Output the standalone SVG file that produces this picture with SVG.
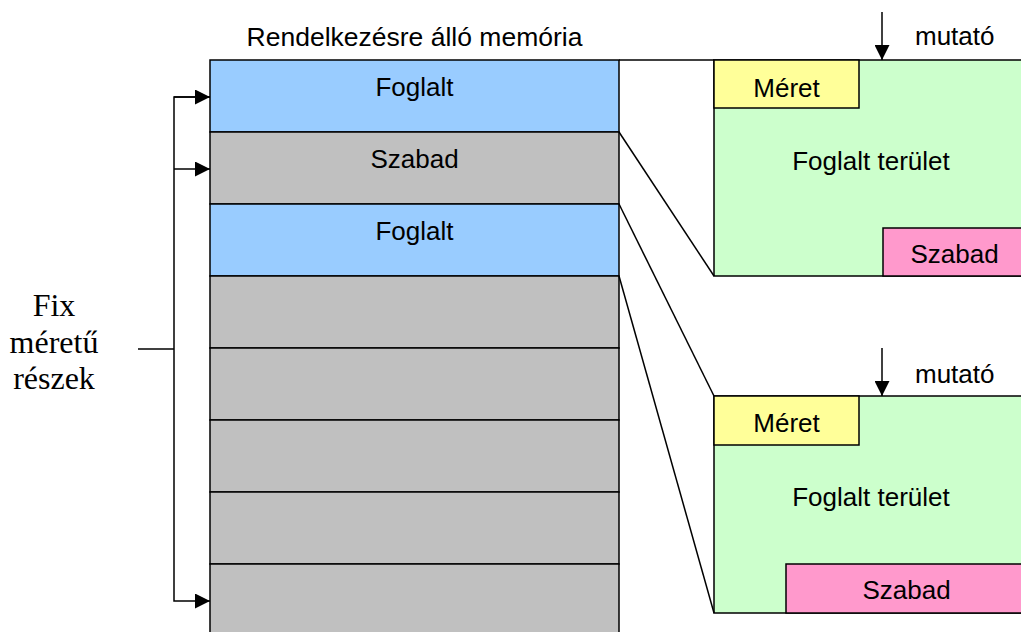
<svg xmlns="http://www.w3.org/2000/svg" width="1021" height="632" viewBox="0 0 1021 632">
  <style>
    .box { stroke: #000; stroke-width: 1.5; }
    .busy { fill: #99CCFF; }
    .free { fill: #C0C0C0; }
    .area { fill: #CCFFCC; }
    .size { fill: #FFFF99; }
    .rest { fill: #FF99CC; }
    .lbl { font-family: "Liberation Sans", Arial, sans-serif; font-size: 26px; fill: #000; text-anchor: middle; }
    .lbl-l { font-family: "Liberation Sans", Arial, sans-serif; font-size: 26px; fill: #000; }
    .serif { font-family: "Liberation Serif", "Times New Roman", serif; font-size: 32px; fill: #000; text-anchor: middle; }
    .wire { stroke: #000; stroke-width: 1.5; fill: none; }
  </style>
  <defs>
    <marker id="arrow" viewBox="0 0 15 15" refX="15" refY="7.5" markerWidth="15" markerHeight="15" markerUnits="userSpaceOnUse" orient="auto">
      <path d="M0,0 L15,7.5 L0,15 Z" fill="#000"/>
    </marker>
  </defs>

  <rect width="1021" height="632" fill="#fff"/>

  <!-- title over the memory column -->
  <text class="lbl" x="414.5" y="46" style="font-size:26.5px">Rendelkezésre álló memória</text>

  <!-- memory column: one block per fixed-size part -->
  <g id="mem-1"><rect class="box busy" x="210" y="60" width="409" height="72"/><text class="lbl" x="414.5" y="96">Foglalt</text></g>
  <g id="mem-2"><rect class="box free" x="210" y="132" width="409" height="72"/><text class="lbl" x="414.5" y="168">Szabad</text></g>
  <g id="mem-3"><rect class="box busy" x="210" y="204" width="409" height="72"/><text class="lbl" x="414.5" y="240">Foglalt</text></g>
  <g id="mem-4"><rect class="box free" x="210" y="276" width="409" height="72"/></g>
  <g id="mem-5"><rect class="box free" x="210" y="348" width="409" height="72"/></g>
  <g id="mem-6"><rect class="box free" x="210" y="420" width="409" height="72"/></g>
  <g id="mem-7"><rect class="box free" x="210" y="492" width="409" height="72"/></g>
  <g id="mem-8"><rect class="box free" x="210" y="564" width="409" height="76"/></g>

  <!-- detail of the first allocated block -->
  <g id="detail-1">
    <rect class="box area" x="714" y="60" width="320" height="216"/>
    <rect class="box size" x="714" y="60" width="145" height="48"/>
    <text class="lbl" x="786.5" y="97">Méret</text>
    <text class="lbl" x="871" y="170">Foglalt terület</text>
    <rect class="box rest" x="883" y="228" width="151" height="48"/>
    <text class="lbl" x="954.5" y="263">Szabad</text>
    <text class="lbl-l" x="915" y="45">mutató</text>
  </g>

  <!-- detail of the second allocated block -->
  <g id="detail-2">
    <rect class="box area" x="714" y="396" width="320" height="217"/>
    <rect class="box size" x="714" y="396" width="145" height="49"/>
    <text class="lbl" x="786.5" y="432">Méret</text>
    <text class="lbl" x="871" y="506">Foglalt terület</text>
    <rect class="box rest" x="786" y="564" width="248" height="49"/>
    <text class="lbl" x="906.5" y="599">Szabad</text>
    <text class="lbl-l" x="915" y="383">mutató</text>
  </g>

  <!-- fixed-size parts label -->
  <g id="fixed-label">
    <text class="serif" x="54" y="316">Fix</text>
    <text class="serif" x="54" y="353">méretű</text>
    <text class="serif" x="54" y="389">részek</text>
  </g>

  <!-- connectors -->
  <g id="connectors">
    <line class="wire" x1="619" y1="60" x2="714" y2="60"/>
    <line class="wire" x1="619" y1="132" x2="714" y2="276"/>
    <line class="wire" x1="619" y1="204" x2="714" y2="396"/>
    <line class="wire" x1="619" y1="276" x2="714" y2="613"/>

    <line class="wire" x1="882" y1="12" x2="882" y2="60" marker-end="url(#arrow)"/>
    <line class="wire" x1="882" y1="348" x2="882" y2="396" marker-end="url(#arrow)"/>

    <line class="wire" x1="138" y1="349" x2="174" y2="349"/>
    <polyline class="wire" points="210,97 174,97 174,601 210,601" marker-end="url(#arrow)"/>
    <line class="wire" x1="174" y1="169" x2="210" y2="169" marker-end="url(#arrow)"/>
    <line class="wire" x1="174" y1="97" x2="210" y2="97" marker-end="url(#arrow)"/>
  </g>
</svg>
